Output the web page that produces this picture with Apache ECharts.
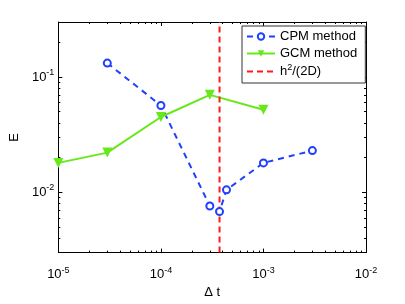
<!DOCTYPE html>
<html><head><meta charset="utf-8">
<script src="https://cdn.jsdelivr.net/npm/echarts@6/dist/echarts.min.js"></script>
<style>html,body{margin:0;padding:0;background:#fff}#c{width:405px;height:304px}</style>
</head><body><div id="c"></div>
<script>
// ---- data ----
const dtCPM  = [3e-5, 1e-4, 3e-4, 3.73e-4, 4.36e-4, 1e-3, 3e-3];
const errCPM = [0.132, 0.0566, 0.0076, 0.0068, 0.0105, 0.018, 0.023];
const dtGCM  = [1e-5, 3e-5, 1e-4, 3e-4, 1e-3];
const errGCM = [0.018, 0.0221, 0.045, 0.070, 0.052];
const critDt = [3.73e-4];
const xExpTicks = [-5, -4, -3, -2];
const yExpTicks = [-2, -1];
const xRange = [1e-5, 1e-2];
const yRange = [0.003, 0.3];
const seriesNames = ['CPM method', 'GCM method', 'h2/(2D)'];

// ---- helpers ----
const L = Math.log10;
const FONT = "'Liberation Sans', Arial, Helvetica, sans-serif";
function minorTicks(lo, hi) {
  const out = [];
  for (let d = Math.floor(lo) - 1; d <= Math.ceil(hi); d++) {
    for (let k = 2; k <= 9; k++) {
      const v = d + L(k);
      if (v > lo + 1e-9 && v < hi - 1e-9) out.push(v);
    }
  }
  return out;
}
const xMin = L(xRange[0]), xMax = L(xRange[1]);
const yMin = L(yRange[0]), yMax = L(yRange[1]);
const xMinor = minorTicks(xMin, xMax);
const yMinor = minorTicks(yMin, yMax);
const rich = {
  b: {fontSize: 13, fontFamily: FONT, color: '#000'},
  s: {fontSize: 9, fontFamily: FONT, color: '#000', padding: [0, 0, 9, 0]}
};
const fmt = v => '{b|10}{s|' + Math.round(v) + '}';
const axisLine = {show: true, lineStyle: {color: '#000', width: 1}};

function xAx(pos, ticks, len, labels, line) {
  return {
    type: 'value', min: xMin, max: xMax, position: pos,
    axisLine: line ? axisLine : {show: false},
    splitLine: {show: false},
    axisTick: {show: true, inside: true, length: len, customValues: ticks, lineStyle: {color: '#000'}},
    axisLabel: labels ? {show: true, customValues: ticks, formatter: fmt, rich: rich, margin: 13} : {show: false}
  };
}
function yAx(pos, ticks, len, labels, line) {
  return {
    type: 'value', min: yMin, max: yMax, position: pos,
    axisLine: line ? axisLine : {show: false},
    splitLine: {show: false},
    axisTick: {show: true, inside: true, length: len, customValues: ticks, lineStyle: {color: '#000'}},
    axisLabel: labels ? {show: true, customValues: ticks, formatter: fmt, rich: rich, margin: 4} : {show: false}
  };
}

const xAxes = [
  Object.assign(xAx('bottom', xExpTicks, 4, true, true), {
    name: 'Δ t', nameLocation: 'middle', nameGap: 25,
    nameTextStyle: {fontSize: 13, fontFamily: FONT, color: '#000'}
  }),
  xAx('bottom', xMinor, 2, false, false),
  xAx('top', xExpTicks, 4, false, true),
  xAx('top', xMinor, 2, false, false)
];
const yAxes = [
  Object.assign(yAx('left', yExpTicks, 4, true, true), {
    name: 'E', nameLocation: 'middle', nameGap: 34,
    nameTextStyle: {fontSize: 13, fontFamily: FONT, color: '#000'}
  }),
  yAx('left', yMinor, 2, false, false),
  yAx('right', yExpTicks, 4, false, true),
  yAx('right', yMinor, 2, false, false)
];

const cpm = dtCPM.map((d, i) => [L(d), L(errCPM[i])]);
const gcm = dtGCM.map((d, i) => [L(d), L(errGCM[i])]);
const crit = [[L(critDt[0]), yMin], [L(critDt[0]), yMax]];

const chart = echarts.init(document.getElementById('c'), null, {renderer: 'canvas'});
chart.setOption({
  animation: false,
  backgroundColor: '#fff',
  grid: {left: 53, top: 22, right: 39, bottom: 39, containLabel: false},
  xAxis: xAxes,
  yAxis: yAxes,
  legend: {
    orient: 'vertical', left: 242, top: 26,
    padding: [3, 8, 4, 4], itemGap: 2, itemWidth: 28, itemHeight: 8,
    backgroundColor: '#fff', borderColor: '#333', borderWidth: 1, borderRadius: 0,
    data: [
      {name: seriesNames[0]},
      {name: seriesNames[1]},
      {name: seriesNames[2], itemStyle: {opacity: 0}}
    ],
    textStyle: {fontSize: 13, fontFamily: FONT, color: '#000', lineHeight: 15,
      rich: {
        a: {fontSize: 13, fontFamily: FONT, color: '#000', lineHeight: 15},
        p: {fontSize: 9, fontFamily: FONT, color: '#000', padding: [0, 0, 8, 0]}
      }},
    formatter: n => n === 'h2/(2D)' ? '{a|h}{p|2}{a|/(2D)}' : n
  },
  series: [
    {
      name: seriesNames[0], type: 'line', data: cpm,
      symbol: 'emptyCircle', symbolSize: 7,
      lineStyle: {color: '#2040ff', width: 2, type: [6, 5]},
      itemStyle: {color: '#2040ff', borderWidth: 2}
    },
    {
      name: seriesNames[1], type: 'line', data: gcm,
      symbol: 'triangle', symbolRotate: 180, symbolSize: 10,
      lineStyle: {color: '#66e81a', width: 2},
      itemStyle: {color: '#66e81a'}
    },
    {
      name: seriesNames[2], type: 'line', data: crit, symbol: 'none',
      lineStyle: {color: '#ff1a1a', width: 2, type: [6, 4]},
      itemStyle: {color: '#ff1a1a'}
    }
  ]
});
</script></body></html>
